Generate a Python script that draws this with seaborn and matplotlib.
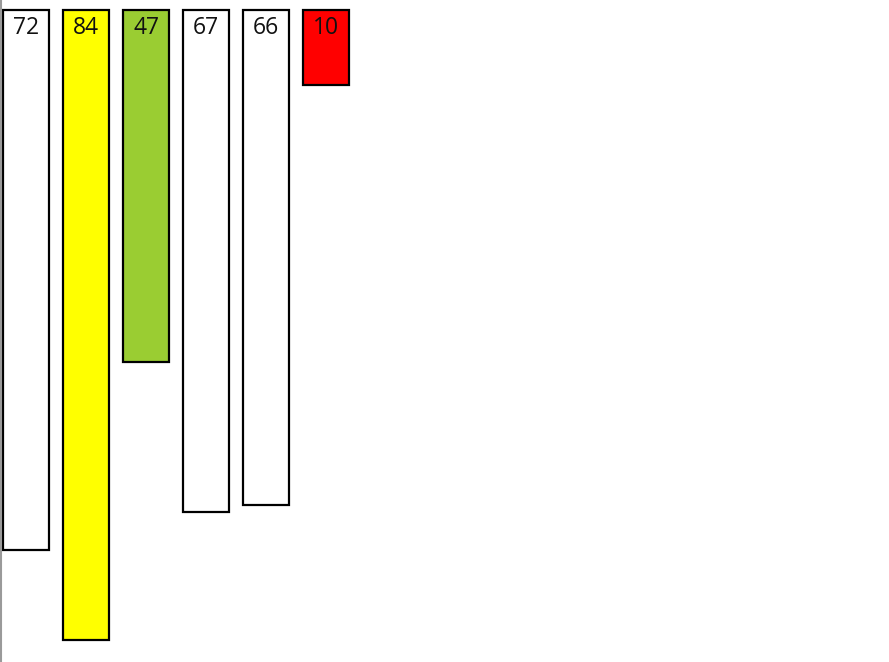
import matplotlib
matplotlib.use("Agg")
import matplotlib.pyplot as plt
import seaborn as sns
import pandas as pd
from matplotlib.lines import Line2D

categories = ["A", "B", "C", "D", "E", "F"]
values = [72, 84, 47, 67, 66, 10]
colors = ["#FFFFFF", "#FFFF00", "#9ACD32", "#FFFFFF", "#FFFFFF", "#FF0000"]

df = pd.DataFrame({"cat": categories, "val": values})

sns.set_style("white")
fig = plt.figure(figsize=(8.89, 6.62), dpi=100)
ax = fig.add_axes([0, 0, 1, 1])

sns.barplot(data=df, x="cat", y="val", hue="cat", palette=dict(zip(categories, colors)),
            legend=False, edgecolor="black", linewidth=1.6, width=46/60, ax=ax,
            saturation=1)

px = 7.5
ax.set_ylim(652.5 / px, -10 / px)
ax.set_xlim(-26 / 60, (889 - 26) / 60)
ax.axis("off")

for i, v in enumerate(values):
    ax.text(i, 18 / px, str(v), ha="center", va="center", fontsize=16.5,
            family="Open Sans", color="#111111")

fig.add_artist(Line2D([0.0012, 0.0012], [0, 1], transform=fig.transFigure,
                      color="#9a9a9a", linewidth=1.5))

fig.savefig("out.png", dpi=100)
